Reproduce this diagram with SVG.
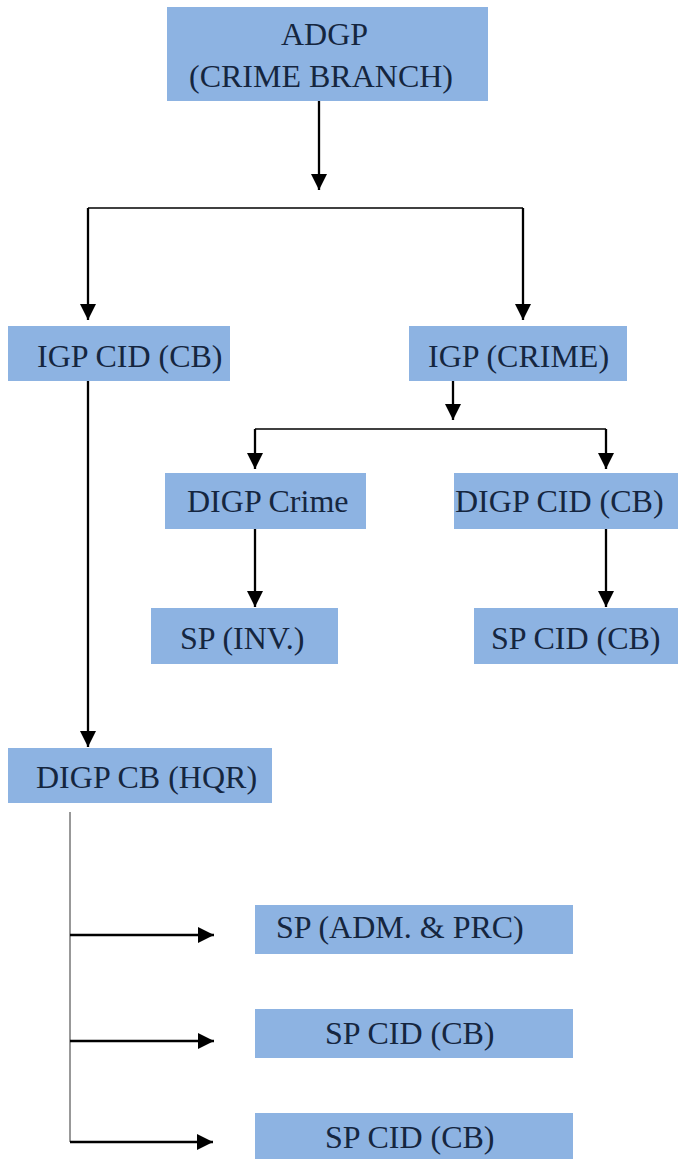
<svg xmlns="http://www.w3.org/2000/svg" width="678" height="1159" viewBox="0 0 678 1159">
<style>
.box{fill:#8db3e2}
.t{font-family:"Liberation Serif","Times New Roman","DejaVu Serif",serif;font-size:32px;fill:#15263f}
.c{stroke:#000;fill:none}
.thick{stroke-width:2.3}
.thin{stroke-width:1.3}
.hair{stroke-width:1;stroke:#333}
</style>
<defs>
<marker id="ah" markerUnits="userSpaceOnUse" markerWidth="17" markerHeight="17" viewBox="0 0 17 17" refX="16" refY="8.5" orient="auto">
<path d="M0,0.5 L16,8.5 L0,16.5 Z" fill="#000"/>
</marker>
</defs>
<rect width="678" height="1159" fill="#fff"/>
<g id="connectors">
<line class="c thick" x1="319" y1="101" x2="319" y2="190" marker-end="url(#ah)"/>
<polyline class="c thin" points="88,208 523,208"/>
<line class="c thick" x1="88" y1="208" x2="88" y2="320" marker-end="url(#ah)"/>
<line class="c thick" x1="523" y1="208" x2="523" y2="320" marker-end="url(#ah)"/>
<line class="c thick" x1="88" y1="381" x2="88" y2="747" marker-end="url(#ah)"/>
<line class="c thick" x1="453" y1="381" x2="453" y2="420" marker-end="url(#ah)"/>
<polyline class="c thin" points="255,429 606,429"/>
<line class="c thick" x1="255" y1="429" x2="255" y2="469" marker-end="url(#ah)"/>
<line class="c thick" x1="606" y1="429" x2="606" y2="469" marker-end="url(#ah)"/>
<line class="c thick" x1="255" y1="529" x2="255" y2="607" marker-end="url(#ah)"/>
<line class="c thick" x1="606" y1="529" x2="606" y2="607" marker-end="url(#ah)"/>
<line class="c hair" x1="70" y1="812" x2="70" y2="1142"/>
<line class="c thick" x1="70" y1="935" x2="214" y2="935" marker-end="url(#ah)"/>
<line class="c thick" x1="70" y1="1041" x2="214" y2="1041" marker-end="url(#ah)"/>
<line class="c thick" x1="70" y1="1142" x2="213" y2="1142" marker-end="url(#ah)"/>
</g>
<g id="n-adgp"><rect class="box" x="167" y="7" width="321" height="94"/><text class="t" x="281" y="45">ADGP</text><text class="t" x="189" y="87">(CRIME BRANCH)</text></g>
<g id="n-igp-cid"><rect class="box" x="8" y="326" width="222" height="55"/><text class="t" x="37" y="367">IGP CID (CB)</text></g>
<g id="n-igp-crime"><rect class="box" x="409" y="326" width="218" height="55"/><text class="t" x="428" y="367">IGP (CRIME)</text></g>
<g id="n-digp-crime"><rect class="box" x="165" y="473" width="201" height="56"/><text class="t" x="187" y="512">DIGP Crime</text></g>
<g id="n-digp-cid"><rect class="box" x="454" y="473" width="224" height="56"/><text class="t" x="455" y="512">DIGP CID (CB)</text></g>
<g id="n-sp-inv"><rect class="box" x="151" y="608" width="187" height="56"/><text class="t" x="180" y="649">SP (INV.)</text></g>
<g id="n-sp-cid-r"><rect class="box" x="474" y="608" width="204" height="56"/><text class="t" x="491" y="649">SP CID (CB)</text></g>
<g id="n-digp-hqr"><rect class="box" x="8" y="748" width="264" height="55"/><text class="t" x="36" y="788">DIGP CB (HQR)</text></g>
<g id="n-sp-adm"><rect class="box" x="255" y="905" width="318" height="49"/><text class="t" x="276" y="938">SP (ADM. &amp; PRC)</text></g>
<g id="n-sp-cid-1"><rect class="box" x="255" y="1009" width="318" height="49"/><text class="t" x="325" y="1044">SP CID (CB)</text></g>
<g id="n-sp-cid-2"><rect class="box" x="255" y="1113" width="318" height="46"/><text class="t" x="325" y="1148">SP CID (CB)</text></g>
</svg>
